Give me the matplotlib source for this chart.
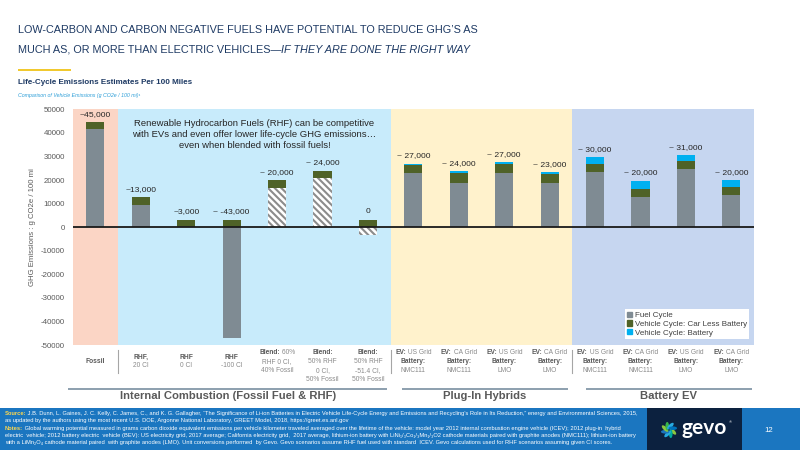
import matplotlib
matplotlib.use("Agg")
import matplotlib.pyplot as plt
from matplotlib import font_manager as fm
from matplotlib.patches import Patch, Rectangle, Ellipse
import numpy as np

# ---------------- data ----------------
categories = [
    "**Fossil**",
    "**RHF,**\n20 CI",
    "**RHF**\n0 CI",
    "**RHF**\n-100 CI",
    "**Blend:** 60%\nRHF 0 CI,\n40% Fossil",
    "**Blend:**\n50% RHF\n0 CI,\n50% Fossil",
    "**Blend:**\n50% RHF\n-51.4 CI,\n50% Fossil",
    "**EV:** US Grid\n**Battery:**\nNMC111",
    "**EV:** CA Grid\n**Battery:**\nNMC111",
    "**EV:** US Grid\n**Battery:**\nLMO",
    "**EV:** CA Grid\n**Battery:**\nLMO",
    "**EV:** US Grid\n**Battery:**\nNMC111",
    "**EV:** CA Grid\n**Battery:**\nNMC111",
    "**EV:** US Grid\n**Battery:**\nLMO",
    "**EV:** CA Grid\n**Battery:**\nLMO",
]
fuel_cycle = [41500, 9400, 0, -47000, 16400, 20800, -3500,
              22800, 18700, 23000, 18700, 23300, 12900, 24500, 13600]
car_less_battery = [3100, 3200, 3200, 3200, 3400, 3100, 3200,
                    3400, 4300, 4000, 4000, 3300, 3300, 3400, 3400]
battery = [0, 0, 0, 0, 0, 0, 0,
           700, 700, 550, 550, 3200, 3500, 2600, 2800]
fuel_is_blend = [False, False, False, False, True, True, True,
                 False, False, False, False, False, False, False, False]
value_labels = ["~45,000", "~13,000", "~3,000", "~ -43,000", "~ 20,000", "~ 24,000", "0",
                "~ 27,000", "~ 24,000", "~ 27,000", "~ 23,000",
                "~ 30,000", "~ 20,000", "~ 31,000", "~ 20,000"]
series_names = ["Fuel Cycle", "Vehicle Cycle: Car Less Battery", "Vehicle Cycle: Battery"]
groups = ["Internal Combustion (Fossil Fuel & RHF)", "Plug-In Hybrids", "Battery EV"]
group_first = [0, 7, 11]
group_last = [6, 10, 14]
band_first = [0, 1, 7, 11]
band_last = [0, 6, 10, 14]
y_ticks = [50000, 40000, 30000, 20000, 10000, 0, -10000, -20000, -30000, -40000, -50000]

# ---------------- style ----------------
C_FUEL = "#7f8b93"
C_CAR = "#4f6228"
C_BATT = "#00b0f0"
BAND_COLORS = ["#fbd5c5", "#c8ebfb", "#fff2cc", "#c6d6f0"]
NAVY = "#1e3a64"
GRAY_TXT = "#595959"

plt.rcParams['axes.unicode_minus'] = False
plt.rcParams['hatch.linewidth'] = 1.5


def font_ok(name):
    try:
        fm.findfont(fm.FontProperties(family=name), fallback_to_default=False)
        return True
    except Exception:
        return False


SANS = ['Liberation Sans', 'DejaVu Sans']
HAS_NARROW = font_ok('Liberation Sans Narrow')
NARROW = (['Liberation Sans Narrow'] + SANS) if HAS_NARROW else SANS
NS = 1.0 if HAS_NARROW else 0.82  # size factor for condensed headings

W, H = 800, 450
fig = plt.figure(figsize=(W / 100, H / 100), dpi=100)
fig.patch.set_facecolor("white")

# page layer in pixel coordinates (y downward)
page = fig.add_axes([0, 0, 1, 1], zorder=0)
page.set_xlim(0, W)
page.set_ylim(H, 0)
page.axis("off")

ax_l, ax_r, ax_t, ax_b = 72.7, 754.0, 109.3, 345.0
ax = fig.add_axes([ax_l / W, 1 - ax_b / H, (ax_r - ax_l) / W, (ax_b - ax_t) / H], zorder=1)
ax.set_facecolor("none")

n = len(categories)
x = np.arange(n)
ax.set_xlim(-0.5, n - 0.5)
ax.set_ylim(-50000, 50000)

for f, l, c in zip(band_first, band_last, BAND_COLORS):
    ax.axvspan(f - 0.5, l + 0.5, color=c, lw=0, zorder=0)

fuel = np.array(fuel_cycle, float)
car = np.array(car_less_battery, float)
bat = np.array(battery, float)
pos_base = np.maximum(fuel, 0)
bw = 0.4
for i in range(n):
    if fuel_is_blend[i]:
        ax.bar(x[i], fuel[i], width=bw, color="white", edgecolor="#8c8c8c",
               hatch="\\\\\\\\\\", lw=0, zorder=2)
    else:
        ax.bar(x[i], fuel[i], width=bw, color=C_FUEL, lw=0, zorder=2)
ax.bar(x, car, bottom=pos_base, width=bw, color=C_CAR, lw=0, zorder=2)
ax.bar(x, bat, bottom=pos_base + car, width=bw, color=C_BATT, lw=0, zorder=2)

tops = pos_base + car + bat
for i in range(n):
    ax.annotate(value_labels[i], (x[i], tops[i]), xytext=(0, 5.6), textcoords="offset points",
                ha="center", va="center", fontsize=6.1, family=SANS, color="#262626", zorder=4)

ax.axhline(0, color="#1a1a1a", lw=1.3, zorder=5)

ax.text(3.5, 39300, "Renewable Hydrocarbon Fuels (RHF) can be competitive\n"
        "with EVs and even offer lower life-cycle GHG emissions…\n"
        "even when blended with fossil fuels!", ha="center", va="center",
        fontsize=6.8, family=SANS, color="#262626", linespacing=1.28, zorder=4)

for s in ax.spines.values():
    s.set_visible(False)
ax.set_xticks([])
ax.set_yticks(y_ticks)
ax.set_yticklabels([str(v) for v in y_ticks])
ax.tick_params(axis="y", length=0, pad=5.6, labelsize=5.7, labelcolor=GRAY_TXT)
for t in ax.get_yticklabels():
    t.set_family(SANS)

leg = ax.legend([Patch(color=C_FUEL), Patch(color=C_CAR), Patch(color=C_BATT)], series_names,
                loc="lower right", bbox_to_anchor=(0.993, 0.025),
                prop={"family": SANS, "size": 5.8}, frameon=True, fancybox=False,
                handlelength=0.6, handleheight=0.6, handletextpad=0.3, labelspacing=0.18,
                borderpad=0.3, borderaxespad=0.0)
leg.get_frame().set_edgecolor("none")
leg.get_frame().set_facecolor("white")
leg.get_frame().set_alpha(1)
for t in leg.get_texts():
    t.set_color("#404040")
leg.set_zorder(6)

page.text(32, 227, "GHG Emissions : g CO2e / 100 mi", rotation=90, ha="center", va="center",
          fontsize=5.6, family=SANS, color=GRAY_TXT)

renderer = fig.canvas.get_renderer()


def mixed_line(xp, yp, segs, ha="center", va="center"):
    """segs: list of (text, props)"""
    texts = [page.text(0, yp, s, ha="left", va=va, **p) for s, p in segs]
    widths = [t.get_window_extent(renderer).width for t in texts]
    x0 = xp - sum(widths) / 2 if ha == "center" else xp
    for t, w in zip(texts, widths):
        t.set_x(x0)
        x0 += w
    return texts


def data_to_px(xd):
    return ax.transData.transform((xd, 0))[0]


# category labels
cat_size = 4.8
line_gap = 8.9
for i, lab in enumerate(categories):
    lines = lab.split("\n")
    nl = len(lines)
    y0 = 361.5 - line_gap * (min(nl, 3) - 1) / 2
    for k, ln in enumerate(lines):
        parts = ln.split("**")
        segs = []
        for j, p in enumerate(parts):
            if not p:
                continue
            bold = (j % 2 == 1)
            segs.append((p, dict(fontsize=cat_size, family=SANS,
                                 fontweight="bold" if bold else "normal",
                                 color="#595959" if bold else "#8a8a8a")))
        mixed_line(data_to_px(x[i]), y0 + k * line_gap, segs)

# separators between category groups
for b in [0.5, 6.5, 10.5]:
    xp = data_to_px(b)
    page.plot([xp, xp], [350, 373], color="#a6a6a6", lw=0.8)

# group underlines and titles
left_pad = [-0.6, -0.25, -0.2]
right_pad = [0.42, 0.4, 0.45]
for g, f, l, lp, rp in zip(groups, group_first, group_last, left_pad, right_pad):
    x0 = data_to_px(f + lp)
    x1 = data_to_px(l + rp)
    page.plot([x0, x1], [388.5, 388.5], color="#8497a8", lw=1.3, solid_capstyle="butt")
    page.text((x0 + x1) / 2, 396, g, ha="center", va="center", fontsize=9.9 * NS,
              family=NARROW, fontweight="bold", color=GRAY_TXT)

# ---------------- header ----------------
title_props = dict(fontsize=9.6 * NS, family=NARROW, color=NAVY)
page.text(18, 33, "LOW-CARBON AND CARBON NEGATIVE FUELS HAVE POTENTIAL TO REDUCE GHG’S AS",
          ha="left", va="baseline", **title_props)
mixed_line(18, 53, [("MUCH AS, OR MORE THAN ELECTRIC VEHICLES—", title_props),
                    ("IF THEY ARE DONE THE RIGHT WAY", dict(title_props, fontstyle="italic"))],
           ha="left", va="baseline")
page.plot([18, 71], [70, 70], color="#f0c419", lw=1.3, solid_capstyle="butt")
page.text(18, 82, "Life-Cycle Emissions Estimates Per 100 Miles", ha="left", va="center",
          fontsize=7.0 * NS, family=NARROW, fontweight="bold", color=NAVY)
page.text(18, 95.5, "Comparison of Vehicle Emissions (g CO2e / 100 mi)¹", ha="left", va="center",
          fontsize=4.65 * NS, family=NARROW, fontstyle="italic", color="#2f9fd8")

# ---------------- footer ----------------
page.add_patch(Rectangle((0, 408), W, H - 408, color="#1b76c0", lw=0, zorder=0))
page.add_patch(Rectangle((647, 408), 95, H - 408, color="#0c213f", lw=0, zorder=1))

foot = dict(fontsize=4.12, family=SANS, color="white")
foot_b = dict(fontsize=4.12, family=SANS, color="#ffd84d", fontweight="bold")
foot_lines = [
    [("Source:", foot_b), (" J.B. Dunn, L. Gaines, J. C. Kelly, C. James, C., and K. G. Gallagher, \u201cThe Significance of Li-ion Batteries in Electric Vehicle Life-Cycle Energy and Emissions and Recycling\u2019s Role in Its Reduction,\u201d energy and Environmental Sciences, 2015,", foot)],
    [("as updated by the authors using the most recent U.S. DOE, Argonne National Laboratory, GREET Model, 2018, https://greet.es.anl.gov", foot)],
    [("Notes:", foot_b), (" Global warming potential measured in grams carbon dioxide equivalent emissions per vehicle kilometer traveled averaged over the lifetime of the vehicle: model year 2012 internal combustion engine vehicle (ICEV); 2012 plug-in  hybrid", foot)],
    [("electric  vehicle; 2012 battery electric  vehicle (BEV): US electricity grid, 2017 average; California electricity grid,  2017 average, lithium-ion battery with LiNi\u2081/\u2083Co\u2081/\u2083Mn\u2081/\u2083O2 cathode materials paired with graphite anodes (NMC111); lithium-ion battery", foot)],
    [("with a LiMn\u2082O\u2084 cathode material paired  with graphite anodes (LMO). Unit conversions performed  by Gevo. Gevo scenarios assume RHF fuel used with standard  ICEV. Gevo calculations used for RHF scenarios assuming given CI scores.", foot)],
]
for k, segs in enumerate(foot_lines):
    mixed_line(5, 413.5 + k * 7.3, segs, ha="left", va="center")

# gevo logo
petal_colors = ["#8dc63f", "#00a99d", "#27aae1", "#1c75bc", "#8dc63f", "#39b54a", "#29abe2", "#0072bc"]
for k, c in enumerate(petal_colors):
    a = np.deg2rad(k * 45 + 20)
    page.add_patch(Ellipse((669 + 4.2 * np.cos(a), 430 + 4.2 * np.sin(a)), 8.5, 3.6,
                           angle=np.rad2deg(a) + 25, color=c, lw=0, zorder=2))
page.text(681, 428.5, "gevo", ha="left", va="center", fontsize=15, family=["Lato"] + SANS,
          fontweight="bold", color="white", zorder=3)
page.text(729, 422, "®", ha="left", va="center", fontsize=3, family=SANS, color="white", zorder=3)
page.text(769, 431, "12", ha="center", va="center", fontsize=5.6, family=SANS, color="white")

fig.savefig("out.png", dpi=100)
